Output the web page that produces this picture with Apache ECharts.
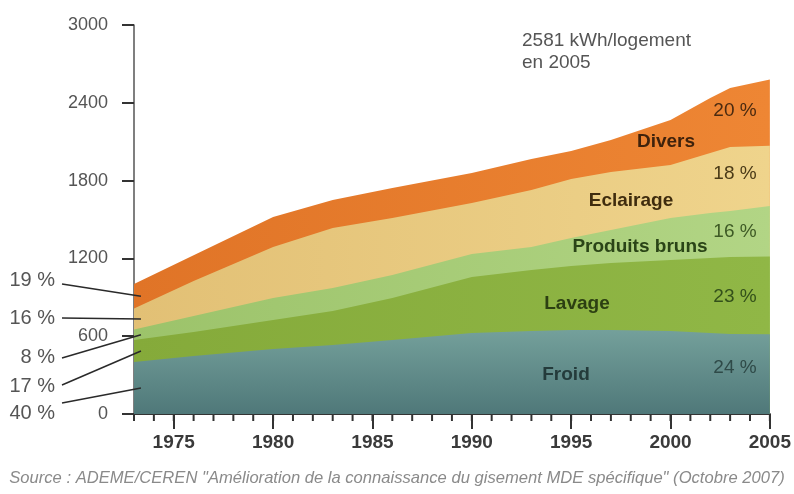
<!DOCTYPE html>
<html><head><meta charset="utf-8">
<script src="https://cdn.jsdelivr.net/npm/echarts@6/dist/echarts.min.js"></script>
<style>html,body{margin:0;padding:0;background:#fff}#c{width:794px;height:494px}</style>
</head><body><div id="c"></div>
<script>
const years = [1973,1976,1980,1983,1986,1990,1993,1995,1997,2000,2002,2003,2005];
const froid = [401,447,501,532,571,625,640,648,648,640,625,617,615];
const lavage = [170,185,224,262,324,432,470,494,517,548,578,594,600];
const produitsBruns = [80,123,170,177,177,177,177,216,254,324,347,355,390];
const eclairage = [162,270,393,463,440,393,440,455,447,409,463,494,463];
const divers = [190,200,231,216,231,231,239,216,247,347,424,455,512];
const seriesNames = ['Froid','Lavage','Produits bruns','Eclairage','Divers'];
const sharesEnd = ['24 %','23 %','16 %','18 %','20 %'];
const sharesStart = ['40 %','17 %','8 %','16 %','19 %'];
const yearLabels = [1975,1980,1985,1990,1995,2000,2005];
const yearTicks = [1973,1974,1975,1976,1977,1978,1979,1980,1981,1982,1983,1984,1985,1986,1987,1988,1989,1990,1991,1992,1993,1994,1995,1996,1997,1998,1999,2000,2001,2002,2003,2004,2005];
const totalNote = ['2581 kWh/logement','en 2005'];
const sourceText = 'Source : ADEME/CEREN "Amélioration de la connaissance du gisement MDE spécifique" (Octobre 2007)';

const FONT = '"Liberation Sans", Arial, sans-serif';
const G = echarts.graphic.LinearGradient;
const fills = [
  new G(0,0,0,1,[{offset:0,color:'#74a09b'},{offset:1,color:'#4f7879'}]),
  new G(0,0,1,0,[{offset:0,color:'#85aa3a'},{offset:1,color:'#90b746'}]),
  new G(0,0,1,0,[{offset:0,color:'#9cc36a'},{offset:1,color:'#b2d585'}]),
  new G(0,0,1,0,[{offset:0,color:'#e2c075'},{offset:1,color:'#efd48c'}]),
  new G(0,0,1,0,[{offset:0,color:'#e07427'},{offset:1,color:'#ee8634'}])
];
const valueSets = [froid, lavage, produitsBruns, eclairage, divers];
const labelColors = ['#243b3b','#2c3f12','#2a4417','#3f2c0e','#3f220c'];
const pctColors = ['#2f4a48','#33501a','#3e5a25','#4a3a17','#4a2a10'];

const cumulative = [];
valueSets.forEach((vals,i)=>{
  cumulative.push(vals.map((v,k)=> v + (i>0 ? cumulative[i-1][k] : 0)));
});

const chart = echarts.init(document.getElementById('c'), null, {renderer:'canvas'});
const series = seriesNames.map((n,i)=>({
  name:n, type:'line', xAxisIndex:0, yAxisIndex:0,
  data: years.map((y,k)=>[y, cumulative[i][k]]),
  z: 10 - i,
  showSymbol:false, symbol:'none', lineStyle:{width:0},
  areaStyle:{color:fills[i], opacity:1, origin:'start'}, emphasis:{disabled:true}, silent:true
}));

chart.setOption({
  animation:false,
  grid:{left:134, right:23, top:25, bottom:80},
  xAxis:{type:'value', min:1973, max:2005, position:'bottom',
     axisLine:{show:true, lineStyle:{color:'#333', width:2}},
     axisTick:{show:true, customValues:yearLabels, length:15, lineStyle:{color:'#333', width:2}},
     axisLabel:{show:true, customValues:yearLabels, formatter:v=>String(v), margin:19, fontSize:19, fontWeight:'bold', color:'#3a3a3a', fontFamily:FONT},
     splitLine:{show:false}},
  yAxis:{type:'value', min:0, max:3000, interval:600,
     axisLine:{show:true, lineStyle:{color:'#555', width:1.5}},
     axisTick:{show:true, length:12, lineStyle:{color:'#333', width:2}},
     axisLabel:{margin:26, fontSize:18, color:'#555', fontFamily:FONT, formatter:v=>String(v)},
     splitLine:{show:false}},
  series: series
});

const graphics = [];
// yearly minor ticks positioned through the x scale
yearTicks.forEach(yr=>{
  const p = chart.convertToPixel({xAxisIndex:0, yAxisIndex:0}, [yr, 0]);
  graphics.push({type:'line', silent:true, shape:{x1:p[0], y1:p[1], x2:p[0], y2:p[1]+7}, style:{stroke:'#333', lineWidth:2}});
});
graphics.push({type:'text', left:522, top:31, style:{text:totalNote[0], font:'19px '+FONT, fill:'#555'}});
graphics.push({type:'text', left:522, top:53, style:{text:totalNote[1], font:'19px '+FONT, fill:'#555'}});
const namePos = [[566,375],[577,304],[640,247],[631,201],[666,142]];
const pctPos = [368,297,232,174,111];
seriesNames.forEach((n,i)=>{
  graphics.push({type:'text', x:namePos[i][0], y:namePos[i][1], z:50, style:{text:n, font:'bold 19px '+FONT, fill:labelColors[i], textAlign:'center', textVerticalAlign:'middle'}});
  graphics.push({type:'text', x:735, y:pctPos[i], z:50, style:{text:sharesEnd[i], font:'19px '+FONT, fill:pctColors[i], textAlign:'center', textVerticalAlign:'middle'}});
});
const leftY = [413,386,357,318,280];
const lineStartY = [403,385,358,318,284];
seriesNames.forEach((n,i)=>{
  const mid = cumulative[i][0] - valueSets[i][0]/2;
  const p = chart.convertToPixel({xAxisIndex:0, yAxisIndex:0}, [years[0]+0.35, mid]);
  graphics.push({type:'text', x:55, y:leftY[i], style:{text:sharesStart[i], font:'20px '+FONT, fill:'#555', textAlign:'right', textVerticalAlign:'middle'}});
  graphics.push({type:'line', shape:{x1:62, y1:lineStartY[i], x2:p[0], y2:p[1]}, style:{stroke:'#2a2a2a', lineWidth:1.5}, z:100});
});
graphics.push({type:'text', x:397, y:478, style:{text:sourceText, font:'italic 16.6px '+FONT, fill:'#8a8a8a', textAlign:'center', textVerticalAlign:'middle'}});
chart.setOption({graphic:graphics});
</script>
</body></html>
